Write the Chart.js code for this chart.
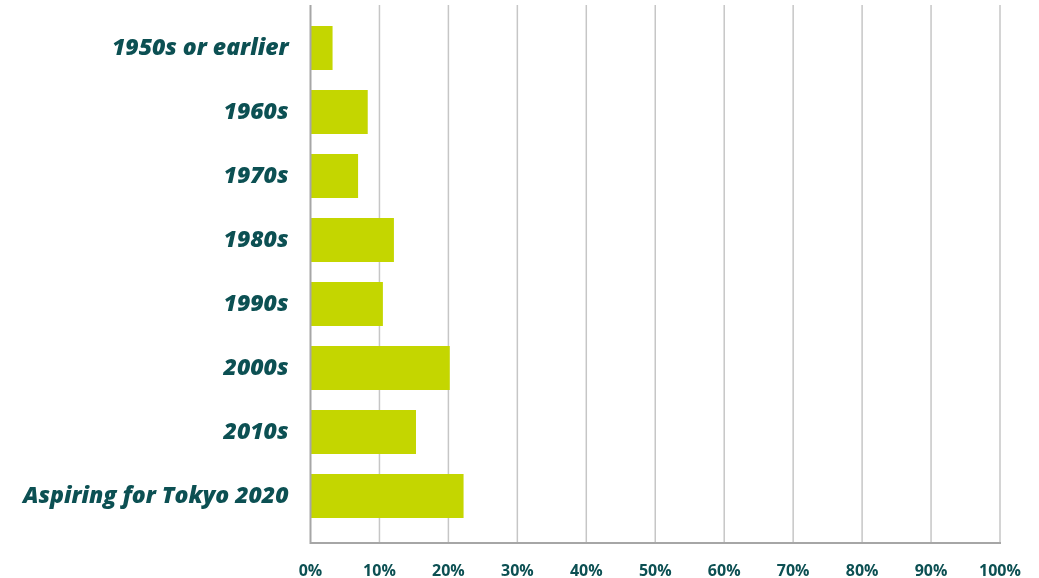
<!DOCTYPE html>
<html>
<head>
<meta charset="utf-8">
<script src="https://cdn.jsdelivr.net/npm/chart.js@4"></script>
<style>
  html, body { margin: 0; padding: 0; background: #fff; }
  #wrap { width: 1039px; height: 578px; }
</style>
</head>
<body>
<div id="wrap"><canvas id="decadeChart"></canvas></div>
<script>
// categories + values (percent)
const decades = ["1950s or earlier", "1960s", "1970s", "1980s", "1990s", "2000s", "2010s", "Aspiring for Tokyo 2020"];
const shares = [3.2, 8.3, 6.9, 12.1, 10.5, 20.2, 15.3, 22.2];
const tickValues = [0, 10, 20, 30, 40, 50, 60, 70, 80, 90, 100];

const textColor = "#0c5053";
const barColor = "#c4d600";

// grid + axis lines run a bit past the chart area, like the original
const gridPlugin = {
    id: "longGrid",
    beforeDatasetsDraw(chart) {
        const ctx = chart.ctx;
        const x = chart.scales.x;
        ctx.save();
        ctx.lineWidth = 1.5;
        ctx.strokeStyle = "#c6c6c6";
        tickValues.forEach(v => {
            if (v === 0) return;
            let px = x.getPixelForValue(v);
            ctx.beginPath();
            ctx.moveTo(px, 5);
            ctx.lineTo(px, 543);
            ctx.stroke();
        });
        ctx.restore();
    },
    afterDatasetsDraw(chart) {
        const ctx = chart.ctx;
        const x = chart.scales.x;
        let left = x.getPixelForValue(0);
        let right = x.getPixelForValue(100);
        ctx.save();
        ctx.lineWidth = 2;
        ctx.strokeStyle = "#a6a6a6";
        ctx.beginPath();
        ctx.moveTo(left, 5);
        ctx.lineTo(left, 543);
        ctx.lineTo(right + 1, 543);
        ctx.stroke();
        ctx.restore();
    }
};

new Chart(document.getElementById("decadeChart"), {
    type: "bar",
    data: {
        labels: decades,
        datasets: [{
            data: shares,
            backgroundColor: barColor,
            borderWidth: 0,
            barPercentage: 0.69,
            categoryPercentage: 1
        }]
    },
    options: {
        indexAxis: "y",
        responsive: true,
        maintainAspectRatio: false,
        animation: false,
        layout: { padding: { top: 16, right: 39, left: 0, bottom: 0 } },
        plugins: {
            legend: { display: false },
            tooltip: { enabled: false }
        },
        scales: {
            x: {
                min: 0,
                max: 100,
                afterBuildTicks: scale => { scale.ticks = tickValues.map(v => ({ value: v })); },
                afterFit: scale => {
                    scale.height = 50;
                    scale.paddingLeft = 0;
                    scale.paddingRight = 0;
                },
                grid: { display: false },
                border: { display: false },
                ticks: {
                    padding: 26,
                    color: textColor,
                    font: { family: "Open Sans", size: 16, weight: "bold" },
                    callback: v => v + "%"
                }
            },
            y: {
                afterFit: scale => {
                    scale.width = 310.5;
                    scale.paddingTop = 0;
                    scale.paddingBottom = 0;
                },
                grid: { display: false },
                border: { display: false },
                ticks: {
                    padding: 14,
                    color: textColor,
                    font: { family: "Open Sans", size: 23, weight: "800", style: "italic" }
                }
            }
        }
    },
    plugins: [gridPlugin]
});
</script>
</body>
</html>
